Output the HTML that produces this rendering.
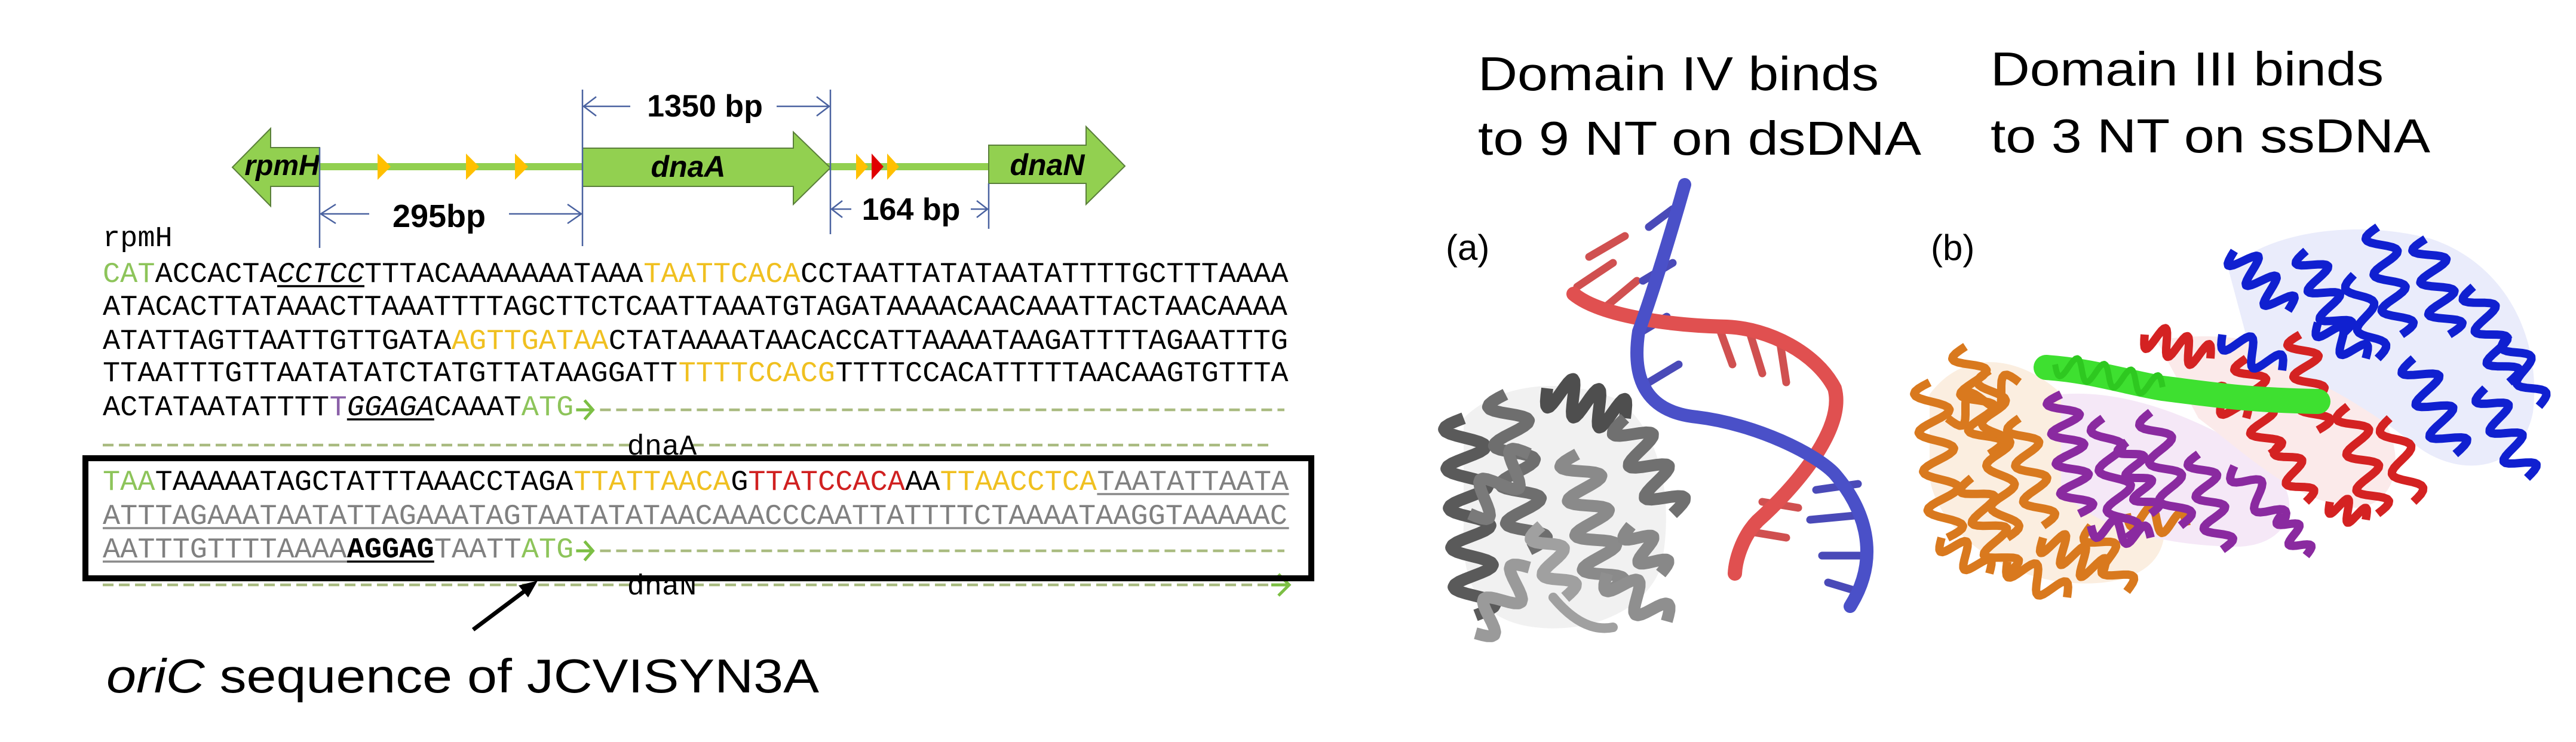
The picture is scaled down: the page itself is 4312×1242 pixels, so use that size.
<!DOCTYPE html>
<html><head><meta charset="utf-8">
<style>
html,body{margin:0;padding:0;background:#fff;}
svg{display:block;}
.seq{font-family:"Liberation Mono",monospace;font-size:48.6px;}
.sans{font-family:"Liberation Sans",sans-serif;}
</style></head>
<body>
<svg id="fig" width="4312" height="1242" viewBox="0 0 4312 1242" xmlns="http://www.w3.org/2000/svg">
<rect x="0" y="0" width="4312" height="1242" fill="#fff"/>

<g>
  <rect x="535" y="273" width="1120" height="12" fill="#92d050"/>
  <polygon points="389,280 453,215 453,247 535,247 535,312 453,312 453,345" fill="#92d050" stroke="#5a7f3a" stroke-width="2"/>
  <polygon points="975,248 1328,248 1328,221 1390,281 1328,342 1328,312 975,312" fill="#92d050" stroke="#5a7f3a" stroke-width="2"/>
  <polygon points="1655,243 1818,243 1818,212 1883,278 1818,342 1818,307 1655,307" fill="#92d050" stroke="#5a7f3a" stroke-width="2"/>
  <polygon points="632,257 654,279 632,301" fill="#ffc000"/>
  <polygon points="780,257 802,279 780,301" fill="#ffc000"/>
  <polygon points="862,257 884,279 862,301" fill="#ffc000"/>
  <polygon points="1433,257 1453,279 1433,301" fill="#ffc000"/>
  <polygon points="1459,257 1479,279 1459,301" fill="#e00000"/>
  <polygon points="1485,257 1505,279 1485,301" fill="#ffc000"/>
  <text class="sans" x="472" y="293" font-size="48" font-weight="bold" font-style="italic" text-anchor="middle">rpmH</text>
  <text class="sans" x="1152" y="296" font-size="50" font-weight="bold" font-style="italic" text-anchor="middle">dnaA</text>
  <text class="sans" x="1753" y="293" font-size="50" font-weight="bold" font-style="italic" text-anchor="middle">dnaN</text>
  <g stroke="#4a62a0" stroke-width="2.5" fill="none">
    <line x1="535" y1="247" x2="535" y2="415"/>
    <line x1="975" y1="150" x2="975" y2="412"/>
    <line x1="1390" y1="150" x2="1390" y2="392"/>
    <line x1="1655" y1="307" x2="1655" y2="383"/>
    <line x1="977" y1="178" x2="1055" y2="178"/><polyline points="998,162 977,178 998,194"/>
    <line x1="1300" y1="178" x2="1388" y2="178"/><polyline points="1367,162 1388,178 1367,194"/>
    <line x1="537" y1="358" x2="618" y2="358"/><polyline points="562,342 537,358 562,374"/>
    <line x1="852" y1="358" x2="973" y2="358"/><polyline points="950,342 973,358 950,374"/>
    <line x1="1392" y1="350" x2="1425" y2="350"/><polyline points="1410,336 1392,350 1410,364"/>
    <line x1="1625" y1="350" x2="1653" y2="350"/><polyline points="1635,336 1653,350 1635,364"/>
  </g>
  <text class="sans" x="1180" y="195" font-size="52" font-weight="bold" text-anchor="middle">1350 bp</text>
  <text class="sans" x="735" y="380" font-size="54" font-weight="bold" text-anchor="middle">295bp</text>
  <text class="sans" x="1525" y="368" font-size="52" font-weight="bold" text-anchor="middle">164 bp</text>
</g>

<text class="seq" x="172" y="412" font-size="42">rpmH</text>
<g id="seqs"></g>

<rect x="143" y="767" width="2052" height="201" fill="none" stroke="#000" stroke-width="10"/>

<g>
  <line x1="792" y1="1054" x2="884" y2="985" stroke="#000" stroke-width="7"/>
  <polygon points="900,972 868,980 884,1000" fill="#000"/>
</g>
<text class="sans" x="178" y="1159" font-size="80" textLength="1193" lengthAdjust="spacingAndGlyphs"><tspan font-style="italic">oriC</tspan> sequence of JCVISYN3A</text>

<text class="sans" x="2474" y="151" font-size="80" textLength="671" lengthAdjust="spacingAndGlyphs">Domain IV binds</text>
<text class="sans" x="2474" y="259" font-size="80" textLength="742" lengthAdjust="spacingAndGlyphs">to 9 NT on dsDNA</text>
<text class="sans" x="3332" y="143" font-size="80" textLength="658" lengthAdjust="spacingAndGlyphs">Domain III binds</text>
<text class="sans" x="3332" y="255" font-size="80" textLength="736" lengthAdjust="spacingAndGlyphs">to 3 NT on ssDNA</text>
<text class="sans" x="2420" y="435" font-size="60">(a)</text>
<text class="sans" x="3232" y="435" font-size="60">(b)</text>

<g id="molA"></g>
<g id="molB"></g>
</svg>

<script>
var NS='http://www.w3.org/2000/svg';
var X0=172, CW=29.2;
var seqG=document.getElementById('seqs');
function mk(tag,attrs,parent){var e=document.createElementNS(NS,tag);for(var k in attrs)e.setAttribute(k,attrs[k]);parent.appendChild(e);return e;}

var rows=[
 {y:472,segs:[["CAT","#8dc45a",""],["ACCACTA","#000",""],["CCTCC","#000","ui"],["TTTACAAAAAAATAAA","#000",""],["TAATTCACA","#f0c020",""],["CCTAATTATATAATATTTTGCTTTAAAA","#000",""]]},
 {y:527,segs:[["ATACACTTATAAACTTAAATTTTAGCTTCTCAATTAAATGTAGATAAAACAACAAATTACTAACAAAA","#000",""]]},
 {y:584,segs:[["ATATTAGTTAATTGTTGATA","#000",""],["AGTTGATAA","#f0c020",""],["CTATAAAATAACACCATTAAAATAAGATTTTAGAATTTG","#000",""]]},
 {y:638,segs:[["TTAATTTGTTAATATATCTATGTTATAAGGATT","#000",""],["TTTTCCACG","#f0c020",""],["TTTTCCACATTTTTAACAAGTGTTTA","#000",""]]},
 {y:695,segs:[["ACTATAATATTTT","#000",""],["T","#8a60a8",""],["GGAGA","#000","ui"],["CAAAT","#000",""],["ATG","#8dc45a",""]],arrow:true,dash:686},
 {y:820,segs:[["TAA","#8dc45a",""],["TAAAAATAGCTATTTAAACCTAGA","#000",""],["TTATTAACA","#f0c020",""],["G","#000",""],["TTATCCACA","#d02020",""],["AA","#000",""],["TTAACCTCA","#f0c020",""],["TAATATTAATA","#808080","u"]]},
 {y:877,segs:[["ATTTAGAAATAATATTAGAAATAGTAATATATAACAAACCCAATTATTTTCTAAAATAAGGTAAAAAC","#808080","u"]]},
 {y:933,segs:[["AATTTGTTTTAAAA","#808080","u"],["AGGAG","#000","ub"],["TAATT","#808080",""],["ATG","#8dc45a",""]],arrow:true,dash:922}
];
rows.forEach(function(r,ri){
  var idx=0;
  var t=mk('text',{'class':'seq',y:r.y},seqG);
  
  
  r.segs.forEach(function(s){
    var ts=mk('tspan',{x:X0+idx*CW,fill:s[1]},t);
    ts.textContent=s[0];
    if(s[2].indexOf('i')>=0)ts.setAttribute('font-style','italic');
    if(s[2].indexOf('b')>=0)ts.setAttribute('font-weight','bold');
    if(s[2].indexOf('u')>=0){
      var ul=mk('line',{x1:X0+idx*CW,x2:X0+(idx+s[0].length)*CW,y1:r.y+7,y2:r.y+7,stroke:s[1]=="#000"?"#000":"#8a8a8a","stroke-width":3.5},seqG);
      
      
    }
    idx+=s[0].length;
  });
  if(r.arrow){
    var ax=X0+idx*CW+4;
    var ar=mk('path',{d:'M'+ax+' '+(r.dash)+' L'+(ax+26)+' '+r.dash+' M'+(ax+14)+' '+(r.dash-16)+' L'+(ax+28)+' '+r.dash+' L'+(ax+14)+' '+(r.dash+16),stroke:'#7cbf44','stroke-width':5,fill:'none'},seqG);
    
    
    var dl=mk('line',{x1:ax+40,x2:2150,y1:r.dash,y2:r.dash,stroke:'#a9bb80','stroke-width':4.5,'stroke-dasharray':'18 9'},seqG);
    
    
  }
});
[[745,'dnaA',761],[979,'dnaN',995]].forEach(function(d){
  var l1=mk('line',{x1:172,x2:1055,y1:d[0],y2:d[0],stroke:'#a9bb80','stroke-width':4.5,'stroke-dasharray':'18 9'},seqG);
  
  
  var l2=mk('line',{x1:1160,x2:2130,y1:d[0],y2:d[0],stroke:'#a9bb80','stroke-width':4.5,'stroke-dasharray':'18 9'},seqG);
  
  
  var tx=mk('text',{'class':'seq',x:1108,y:d[2],'font-size':42,'text-anchor':'middle'},seqG);
  
  
  tx.textContent=d[1];
});
var ea=mk('path',{d:'M2128 979 L2156 979 M2140 961 L2158 979 L2140 997',stroke:'#7cbf44','stroke-width':5,fill:'none'},seqG);



function coil(g,x1,y1,x2,y2,amp,turns,w,col){
  var dx=x2-x1,dy=y2-y1,L=Math.sqrt(dx*dx+dy*dy),nx=-dy/L,ny=dx/L,d='';
  var N=turns*16;
  for(var i=0;i<=N;i++){var t=i/N,s=Math.sin(t*turns*2*Math.PI)*amp;
    d+=(i?'L':'M')+(x1+dx*t+nx*s).toFixed(1)+' '+(y1+dy*t+ny*s).toFixed(1);}
  var p=mk('path',{d:d,stroke:col,'stroke-width':w,fill:'none','stroke-linejoin':'round'},g);
  
  
}
function pth(g,d,col,w,name){var p=mk('path',{d:d,stroke:col,'stroke-width':w,fill:'none','stroke-linecap':'round'},g);
  
  }
function blob(g,d,col,name){var p=mk('path',{d:d,fill:col,stroke:'none'},g);
  
  }

var A=document.getElementById('molA');
blob(A,'M2450 700 C2510 640 2620 630 2710 670 C2790 730 2800 860 2780 950 C2750 1030 2650 1060 2570 1050 C2480 1040 2445 980 2450 880 Z','#f1f1f1','protein-shadow');
var grayH=[[2450,700,2470,1030,34,5,'#5a5a5a'],[2520,660,2560,920,32,4,'#6e6e6e'],[2590,650,2720,700,30,3,'#4e4e4e'],[2640,760,2690,990,32,4,'#8a8a8a'],[2720,700,2800,860,30,3,'#707070'],[2560,950,2470,1060,26,2,'#9a9a9a'],[2690,960,2790,1040,24,2,'#8f8f8f'],[2460,860,2560,760,28,2,'#7a7a7a'],[2580,880,2620,1000,24,2,'#a0a0a0'],[2730,880,2780,960,22,2,'#888']];
grayH.forEach(function(h){coil(A,h[0],h[1],h[2],h[3],h[4],h[5],20,h[6]);});
pth(A,'M2600 1000 Q2650 1060 2700 1050','#a0a0a0',16,'loop');
var rungsR=[[2640,480,2700,440],[2660,430,2720,395],[2680,520,2740,470],[2880,555,2900,610],[2930,560,2950,625],[2980,575,2990,640],[2930,890,2990,900],[2950,840,3010,850]];
rungsR.forEach(function(r){pth(A,'M'+r[0]+' '+r[1]+' L'+r[2]+' '+r[3],'#d05050',13,'dna-base-red');});
var rungsB=[[2760,380,2800,350],[2750,470,2800,440],[2740,560,2790,530],[2760,640,2810,610],[3040,820,3110,810],[3030,870,3115,862],[3050,930,3120,930],[3060,975,3110,990]];
rungsB.forEach(function(r){pth(A,'M'+r[0]+' '+r[1]+' L'+r[2]+' '+r[3],'#4a4ab8',13,'dna-base-blue');});
pth(A,'M2634 492 C2680 530 2800 545 2891 547 C2960 550 3040 590 3071 650 C3090 720 3000 820 2942 872 C2915 900 2905 940 2904 960','#e05050',24,'dna-strand-red');
pth(A,'M2820 309 C2800 380 2770 480 2743 555 C2730 640 2760 690 2840 698 C2940 710 3040 760 3071 793 C3120 850 3150 930 3097 1015','#4a50c8',22,'dna-strand-blue');

var B=document.getElementById('molB');
blob(B,'M3230 660 C3290 580 3380 600 3440 650 C3510 710 3590 770 3620 860 C3640 950 3560 985 3460 975 C3350 965 3245 890 3230 800 Z','#fbeee0','orange-shadow');
blob(B,'M3450 660 C3570 650 3700 710 3790 770 C3860 830 3840 910 3750 915 C3640 915 3510 890 3450 820 Z','#f5e8f7','purple-shadow');
blob(B,'M3610 570 C3720 550 3870 570 3970 670 C4040 760 4010 850 3940 850 C3840 840 3760 760 3680 700 Z','#fbeaea','red-shadow');
blob(B,'M3730 450 C3810 380 3960 370 4070 400 C4190 440 4255 560 4240 690 C4220 790 4120 800 4050 750 C3960 680 3860 620 3770 600 Z','#eaecfb','blue-shadow');
var orange=[[3230,640,3260,900,28,4],[3290,580,3330,760,26,3],[3300,800,3360,960,26,3],[3380,700,3420,880,24,3],[3420,900,3520,960,24,3],[3500,880,3560,990,22,2],[3260,700,3380,640,22,2],[3360,940,3460,1000,22,2],[3560,860,3660,880,20,2],[3330,620,3360,900,22,4],[3250,900,3330,960,20,2]];
orange.forEach(function(h){coil(B,h[0],h[1],h[2],h[3],h[4],h[5],14,'#d9791e');});
var purple=[[3450,660,3480,860,26,4],[3520,700,3560,900,24,3],[3600,690,3650,880,24,3],[3680,760,3720,920,22,3],[3740,780,3820,880,20,2],[3500,880,3600,900,18,2],[3820,860,3860,930,16,2],[3560,740,3600,860,20,3]];
purple.forEach(function(h){coil(B,h[0],h[1],h[2],h[3],h[4],h[5],14,'#8a2aa0');});
var red=[[3590,560,3700,600,22,3],[3760,600,3800,760,24,3],[3850,560,3880,720,24,3],[3930,680,3980,860,24,3],[4000,700,4040,840,22,2],[3680,640,3760,700,20,2],[3900,840,3960,870,18,2],[3820,740,3860,840,20,2]];
red.forEach(function(h){coil(B,h[0],h[1],h[2],h[3],h[4],h[5],14,'#d42222');});
var blue=[[3740,420,3830,520,24,3],[3860,420,3920,560,24,3],[3980,380,4020,560,24,3],[4060,400,4100,560,26,3],[4140,480,4200,640,24,3],[4040,600,4110,760,28,3],[4160,650,4230,800,24,3],[3720,560,3820,620,22,2],[3880,540,3960,600,20,2],[4200,560,4250,680,20,2],[3940,460,3980,600,20,2]];
blue.forEach(function(h){coil(B,h[0],h[1],h[2],h[3],h[4],h[5],14,'#1020d0');});
pth(B,'M3425 615 C3500 620 3560 640 3620 650 C3700 660 3760 670 3880 672','#3ee030',42,'ssDNA-strand');
coil(B,3440,610,3620,648,18,4,10,'#2ec820');
</script>
</body></html>
